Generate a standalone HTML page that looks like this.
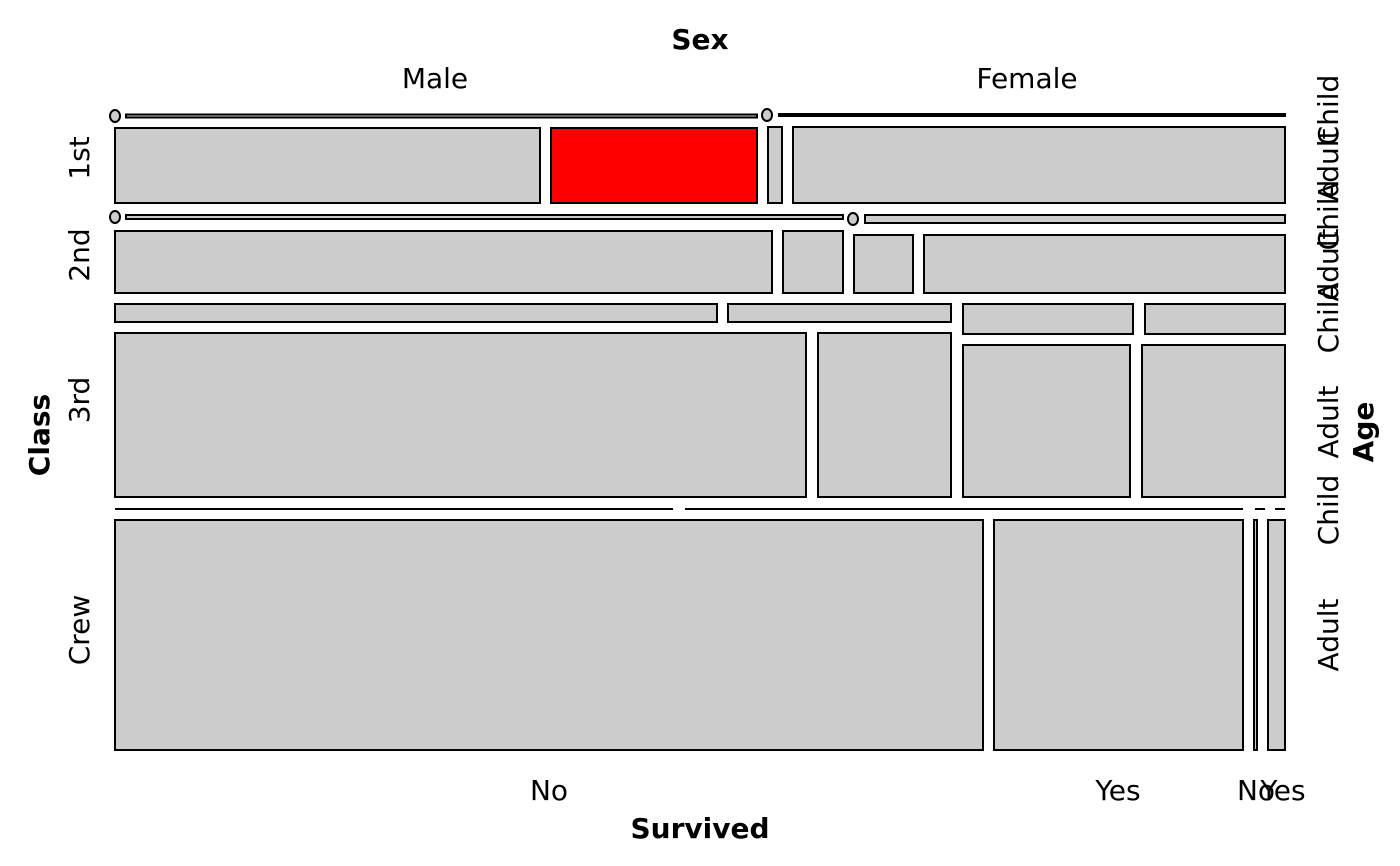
<!DOCTYPE html>
<html><head><meta charset="utf-8"><style>html,body{margin:0;padding:0;background:#fff}svg{display:block}</style></head>
<body>
<svg width="1400" height="866" viewBox="0 0 1400 866" xmlns="http://www.w3.org/2000/svg" font-family="'DejaVu Sans','Liberation Sans',sans-serif" font-size="28">
<g fill="#cccccc" stroke="#000" stroke-width="2">
<rect x="126" y="114.5" width="631" height="3"/>
<rect x="779" y="114" width="506" height="2" fill="#000"/>
<rect x="115" y="128" width="425" height="75"/>
<rect x="551" y="128" width="206" height="75" fill="#ff0000"/>
<rect x="768" y="127" width="14" height="76"/>
<rect x="793" y="127" width="492" height="76"/>
<ellipse cx="115" cy="116" rx="5" ry="6"/>
<ellipse cx="767" cy="115" rx="5" ry="6"/>
<rect x="126" y="215" width="717" height="4"/>
<rect x="865" y="215" width="420" height="8"/>
<ellipse cx="115" cy="217" rx="5" ry="6"/>
<ellipse cx="853" cy="219" rx="5" ry="6"/>
<rect x="115" y="231" width="657" height="62"/>
<rect x="783" y="231" width="60" height="62"/>
<rect x="854" y="235" width="59" height="58"/>
<rect x="924" y="235" width="361" height="58"/>
<rect x="115" y="304" width="602" height="18"/>
<rect x="728" y="304" width="223" height="18"/>
<rect x="115" y="333" width="691" height="164"/>
<rect x="818" y="333" width="133" height="164"/>
<rect x="963" y="304" width="170" height="30"/>
<rect x="1145" y="304" width="140" height="30"/>
<rect x="963" y="345" width="167" height="152"/>
<rect x="1142" y="345" width="143" height="152"/>
<rect x="115" y="520" width="868" height="230"/>
<rect x="994" y="520" width="249" height="230"/>
<rect x="1254" y="520" width="3" height="230"/>
<rect x="1268" y="520" width="17" height="230"/>
</g>
<g stroke="#000" stroke-width="2">
<line x1="115" y1="509" x2="673" y2="509"/>
<line x1="685" y1="509" x2="1243" y2="509"/>
<line x1="1255" y1="509" x2="1265" y2="509"/>
<line x1="1275" y1="509" x2="1285" y2="509"/>
</g>
<g text-anchor="middle">
<text x="700" y="49" font-weight="bold">Sex</text>
<text x="435" y="88">Male</text>
<text x="1027" y="88">Female</text>
<text x="700" y="838" font-weight="bold">Survived</text>
<text x="549" y="800">No</text>
<text x="1118" y="800">Yes</text>
<text x="1256" y="800">No</text>
<text x="1283" y="800">Yes</text>
<text transform="translate(49,435) rotate(-90)" font-weight="bold">Class</text>
<text transform="translate(89,158) rotate(-90)">1st</text>
<text transform="translate(89,255) rotate(-90)">2nd</text>
<text transform="translate(89,400) rotate(-90)">3rd</text>
<text transform="translate(89,630) rotate(-90)">Crew</text>
<text transform="translate(1338,110) rotate(-90)">Child</text>
<text transform="translate(1338,165) rotate(-90)">Adult</text>
<text transform="translate(1338,215) rotate(-90)">Child</text>
<text transform="translate(1338,265) rotate(-90)">Adult</text>
<text transform="translate(1338,318) rotate(-90)">Child</text>
<text transform="translate(1338,422) rotate(-90)">Adult</text>
<text transform="translate(1338,510) rotate(-90)">Child</text>
<text transform="translate(1338,635) rotate(-90)">Adult</text>
<text transform="translate(1373,432) rotate(-90)" font-weight="bold">Age</text>
</g>
</svg>
</body></html>
